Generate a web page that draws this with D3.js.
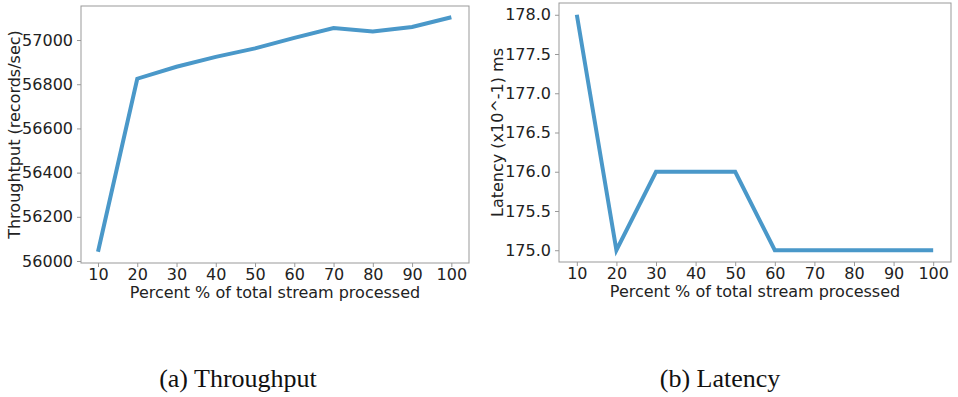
<!DOCTYPE html>
<html>
<head>
<meta charset="utf-8">
<script src="https://cdn.jsdelivr.net/npm/d3@7"></script>
<style>
  body { margin: 0; background: #fff; }
  svg { display: block; }
</style>
</head>
<body>
<svg id="chart" width="958" height="397"></svg>
<script>
const percents = [10, 20, 30, 40, 50, 60, 70, 80, 90, 100];
const throughput = [56042, 56825, 56879, 56924, 56962, 57010, 57054, 57039, 57059, 57103];
const latency = [178, 175, 176, 176, 176, 175, 175, 175, 175, 175];
const throughputTicks = [56000, 56200, 56400, 56600, 56800, 57000];
const latencyTicks = [175.0, 175.5, 176.0, 176.5, 177.0, 177.5, 178.0];

const lineColor = '#4a98c9';
const frameColor = '#999';
const sans = '"DejaVu Sans", sans-serif';
const serif = '"Palatino Linotype", "Book Antiqua", "Liberation Serif", serif';
const svg = d3.select('#chart');

const drawPanel = opts => {
    const { left, right, top, bottom, xDomain, yDomain, values, yTicks, yFormat, yLabel, yLabelX, caption, captionX } = opts;

    const x = d3.scaleLinear().domain(xDomain).range([left, right]);
    const y = d3.scaleLinear().domain(yDomain).range([bottom, top]);

    const g = svg.append('g');

    g.append('rect')
        .attr('x', left).attr('y', top)
        .attr('width', right - left).attr('height', bottom - top)
        .attr('fill', 'none').attr('stroke', frameColor).attr('stroke-width', 1);

    const xAxis = g.append('g')
        .attr('transform', `translate(0,${bottom})`)
        .call(d3.axisBottom(x).tickValues(percents).tickSize(4).tickPadding(2));
    const yAxis = g.append('g')
        .attr('transform', `translate(${left},0)`)
        .call(d3.axisLeft(y).tickValues(yTicks).tickFormat(yFormat).tickSize(4).tickPadding(4));

    [xAxis, yAxis].forEach(a => {
        a.attr('font-family', sans).attr('font-size', 16);
        a.select('.domain').remove();
        a.selectAll('.tick line').attr('stroke', frameColor);
        a.selectAll('.tick text').attr('fill', '#222');
    });

    g.append('path')
        .datum(values)
        .attr('fill', 'none')
        .attr('stroke', lineColor)
        .attr('stroke-width', 4)
        .attr('d', d3.line().x((d, i) => x(percents[i])).y(d => y(d)));

    g.append('text')
        .attr('x', (left + right) / 2)
        .attr('y', bottom + 35)
        .attr('text-anchor', 'middle')
        .attr('font-family', sans).attr('font-size', 16).attr('fill', '#222')
        .text('Percent % of total stream processed');

    g.append('text')
        .attr('transform', `translate(${yLabelX},${(top + bottom) / 2}) rotate(-90)`)
        .attr('text-anchor', 'middle')
        .attr('dy', '0.35em')
        .attr('font-family', sans).attr('font-size', 16).attr('fill', '#222')
        .text(yLabel);

    g.append('text')
        .attr('x', captionX)
        .attr('y', 387)
        .attr('text-anchor', 'middle')
        .attr('font-family', serif).attr('font-size', 26).attr('fill', '#111')
        .text(caption);
};

// left: throughput
drawPanel({
    left: 81, right: 469, top: 6, bottom: 263,
    xDomain: [5.67, 104.5],
    yDomain: [55991, 57154],
    values: throughput,
    yTicks: throughputTicks,
    yFormat: d3.format('d'),
    yLabel: 'Throughtput (records/sec)',
    yLabelX: 14,
    caption: '(a) Throughput',
    captionX: 238
});

// right: latency
drawPanel({
    left: 559, right: 951, top: 3, bottom: 262,
    xDomain: [5.5, 104.5],
    yDomain: [174.85, 178.15],
    values: latency,
    yTicks: latencyTicks,
    yFormat: d3.format('.1f'),
    yLabel: 'Latency (x10^-1) ms',
    yLabelX: 497,
    caption: '(b) Latency',
    captionX: 720
});
</script>
</body>
</html>
